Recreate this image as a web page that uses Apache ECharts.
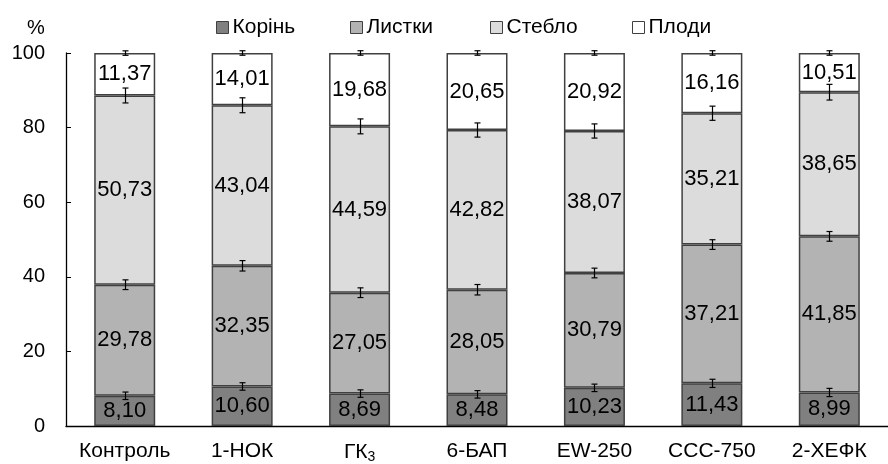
<!DOCTYPE html>
<html><head><meta charset="utf-8">
<script src="https://cdn.jsdelivr.net/npm/echarts@6/dist/echarts.min.js"></script>
<style>html,body{margin:0;padding:0;background:#fff}#c{width:888px;height:464px}</style>
</head><body><div id="c"></div>
<script>
const categories = ['Контроль','1-НОК','ГК₃','6-БАП','EW-250','CCC-750','2-ХЕФК'];
const seriesNames = ['Корінь','Листки','Стебло','Плоди'];
const root   = [8.10, 10.60, 8.69, 8.48, 10.23, 11.43, 8.99];
const leaves = [29.78, 32.35, 27.05, 28.05, 30.79, 37.21, 41.85];
const stem   = [50.73, 43.04, 44.59, 42.82, 38.07, 35.21, 38.65];
const fruit  = [11.37, 14.01, 19.68, 20.65, 20.92, 16.16, 10.51];
const errRoot   = [1.0, 1.0, 1.0, 1.0, 1.0, 1.1, 1.1];
const errLeaves = [1.3, 1.4, 1.3, 1.4, 1.3, 1.3, 1.3];
const errStem   = [2.0, 2.0, 2.0, 1.9, 1.9, 1.9, 2.1];
const errFruit  = [0.6, 0.6, 0.6, 0.6, 0.6, 0.6, 0.6];
const yTicks = [0, 20, 40, 60, 80, 100];

const colors = ['#808080','#b3b3b3','#dcdcdc','#ffffff'];
const values = [root, leaves, stem, fruit];
const errs = [errRoot, errLeaves, errStem, errFruit];
const legendLeft = [216, 350, 490, 632];
const FONT = 'Liberation Sans, Arial, sans-serif';

const fmt = v => v.toFixed(2).replace('.', ',');

const errPoints = [];
categories.forEach((c, i) => {
  let cum = 0;
  values.forEach((arr, s) => {
    cum += arr[i];
    errPoints.push([i, cum, errs[s][i]]);
  });
});

const chart = echarts.init(document.getElementById('c'), null, {renderer: 'canvas'});
const barSeries = values.map((arr, s) => ({
  name: seriesNames[s],
  type: 'bar',
  stack: 'total',
  barWidth: 61,
  data: arr,
  itemStyle: {color: colors[s], borderColor: '#404040', borderWidth: 1.5},
  label: {
    show: true, position: 'inside', color: '#000',
    fontFamily: FONT, fontSize: 22,
    formatter: p => fmt(p.value)
  },
  emphasis: {disabled: true},
  z: 2
}));

const legends = seriesNames.map((n, s) => ({
  data: [n],
  top: 17, left: legendLeft[s], padding: 0,
  itemWidth: 12, itemHeight: 12, itemGap: 0,
  icon: 'rect',
  selectedMode: false,
  itemStyle: {borderColor: '#404040', borderWidth: 1},
  textStyle: {fontFamily: FONT, fontSize: 21, color: '#000', padding: [0,0,0,-1]}
}));

chart.setOption({
  animation: false,
  backgroundColor: '#fff',
  grid: {left: 66, width: 835, top: 53, bottom: 38, containLabel: false},
  legend: legends,
  graphic: [{
    type: 'text', left: 27, top: 18,
    style: {text: '%', fontFamily: FONT, fontSize: 20, fill: '#000'}
  }],
  xAxis: {
    type: 'category', data: categories,
    axisLine: {lineStyle: {color: '#000', width: 1.3}},
    axisTick: {show: false},
    axisLabel: {
      interval: 0, hideOverlap: false,
      fontFamily: FONT, fontSize: 21, color: '#000', margin: 15,
      formatter: v => v === 'ГК₃' ? 'ГК{sub|3}' : v,
      rich: {sub: {fontFamily: FONT, fontSize: 14, color: '#000', verticalAlign: 'bottom', padding: [9,0,0,0]}}
    }
  },
  yAxis: {
    type: 'value', min: yTicks[0], max: yTicks[yTicks.length-1], interval: 20,
    axisLine: {show: true, lineStyle: {color: '#000', width: 1.3}},
    axisTick: {show: true, inside: true, length: 5, lineStyle: {color: '#000'}},
    splitLine: {show: false},
    axisLabel: {fontFamily: FONT, fontSize: 20, color: '#000', margin: 21}
  },
  series: barSeries.concat([{
    type: 'custom',
    name: 'err',
    data: errPoints,
    z: 10,
    silent: true,
    renderItem: (params, api) => {
      const x = api.value(0), y = api.value(1), e = api.value(2);
      const top = api.coord([x, y + e]);
      const bot = api.coord([x, y - e]);
      const cx = Math.round(top[0]) + 0.5;
      const w = 3;
      const st = {stroke: '#000', lineWidth: 1.2};
      return {type: 'group', children: [
        {type: 'line', shape: {x1: cx, y1: top[1], x2: cx, y2: bot[1]}, style: st},
        {type: 'line', shape: {x1: cx - w, y1: top[1], x2: cx + w, y2: top[1]}, style: st},
        {type: 'line', shape: {x1: cx - w, y1: bot[1], x2: cx + w, y2: bot[1]}, style: st}
      ]};
    }
  }])
});
</script></body></html>
